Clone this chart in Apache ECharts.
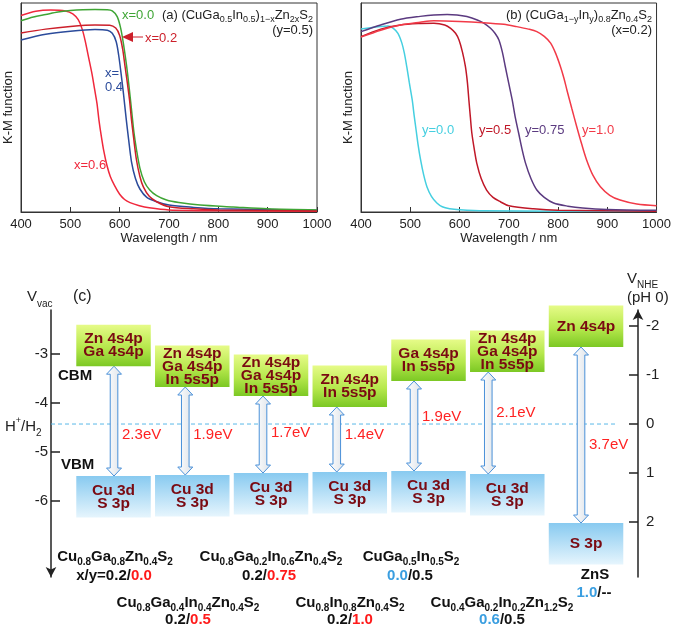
<!DOCTYPE html>
<html>
<head>
<meta charset="utf-8">
<script src="https://cdn.jsdelivr.net/npm/echarts@6/dist/echarts.min.js"></script>
<style>html,body{margin:0;padding:0;background:#fff;}#c{width:674px;height:629px;}</style>
</head>
<body>
<div id="c"></div>
<script>
const FONT = "'Liberation Sans', Arial, Helvetica, sans-serif";

// ---- Panel (a): (CuGa0.5In0.5)1-xZn2xS2 (wavelength nm, K-M relative) ----
const a_x00 = [[400,91.5],[425,93.3],[450,94.5],[475,95.7],[500,96.4],[525,96.8],[550,96.9],[575,96.8],[585,96.2],[595,93.5],[602,88],[608,80],[614,70],[619,60],[624,49],[629,38],[634,30],[641,21],[650,14.5],[661,10.5],[675,7.8],[695,5.7],[720,4.5],[763,3.3],[830,2.4],[900,1.5],[1000,1]];
const a_x02 = [[400,85.6],[450,87.5],[500,88.8],[550,89.5],[580,89.4],[592,88],[600,84.5],[606,78],[611,69.5],[616,61],[620,53.6],[624,44],[628,36],[634,25],[641,17],[648,12],[660,7.5],[675,4.9],[700,2.5],[750,1.5],[800,1],[1000,0.5]];
const a_x04 = [[400,82.3],[450,85],[500,86.5],[550,87.3],[575,87],[585,85.5],[593,81.5],[598,75],[603,66],[608,56],[613,45],[618,35],[624,24],[632,16],[641,11],[655,7],[675,4.9],[700,3.3],[750,2.2],[800,1.5],[1000,0.8]];
const a_x06 = [[400,94],[430,96],[460,96.6],[490,96.2],[505,94.8],[516,92],[524,87.5],[530,82],[537,74],[544,66],[549,59],[554,52],[558,44],[563,36],[568,29],[574,22.5],[581,17],[590,12.5],[600,8.5],[610,6],[621,4.5],[640,3],[660,2],[700,1],[800,0.6],[1000,0.4]];

// ---- Panel (b): (CuGa1-yIny)0.8Zn0.4S2 ----
const b_y000 = [[400,87.6],[420,88.2],[440,88.8],[455,89],[465,88],[475,85.5],[483,80.8],[488,76],[493,69.4],[498,62],[504,53.6],[508,46],[512,39],[516,32],[521,24.9],[527,18],[534,12],[543,7.5],[554,4.3],[565,2.5],[580,1.6],[600,1.1],[650,0.6],[1000,0.3]];
const b_y050 = [[400,83.9],[440,87.5],[480,89.5],[520,90.2],[548,90.3],[570,89.5],[582,87.9],[592,85.5],[599,82.3],[606,76.5],[612,69.5],[616,62],[619,53.6],[622,45.5],[625,37.8],[630,30],[635,23.4],[644,16],[655,10.5],[668,7],[683,4.9],[700,3],[750,1.5],[800,0.8],[1000,0.4]];
const b_y075 = [[400,86.3],[440,89.5],[480,92.2],[520,93.6],[548,94.3],[575,94.5],[595,94.3],[615,93.5],[636,91.9],[650,90.3],[663,87.9],[672,85.5],[680,82.3],[687,76.5],[693,69.5],[700,61.5],[707,53.6],[713,45.5],[720,37.8],[727,30],[734,23.4],[745,16],[757,10.5],[772,7],[791,4.3],[820,2.8],[850,1.9],[900,1.2],[1000,0.8]];
const b_y100 = [[400,83.7],[440,87],[480,89.5],[520,90.8],[548,91.5],[600,91.2],[649,90.6],[690,89.8],[716,88.7],[740,87.5],[757,86.3],[772,84],[785,80.8],[795,76],[805,69.5],[812,64],[818,58.4],[828,49.5],[838,40.8],[848,32.5],[858,24.9],[871,17.5],[886,12.1],[905,8],[926,5.7],[960,3.8],[1000,3]];

// ---- Panel (c): band positions (V vs NHE, pH 0) ----
const columns = [0,1,2,3,4,5,6];
const cbm = [-1.18,-0.755,-0.571,-0.347,-0.878,-1.061,-1.571];
const vbm = [1.061,1.041,1.0,0.98,0.959,1.02,2.02];
const gapEV = ['2.3','1.9','1.7','1.4','1.9','2.1','3.7'];
const cbmLabels = [['Zn 4s4p','Ga 4s4p'],['Zn 4s4p','Ga 4s4p','In 5s5p'],['Zn 4s4p','Ga 4s4p','In 5s5p'],['Zn 4s4p','In 5s5p'],['Ga 4s4p','In 5s5p'],['Zn 4s4p','Ga 4s4p','In 5s5p'],['Zn 4s4p']];
const vbmLabels = [['Cu 3d','S 3p'],['Cu 3d','S 3p'],['Cu 3d','S 3p'],['Cu 3d','S 3p'],['Cu 3d','S 3p'],['Cu 3d','S 3p'],['S 3p']];
const hLevel = 0;
const vvacTicks = [-6,-5,-4,-3];
const vnheTicks = [-2,-1,0,1,2];

// layout constants (not data)
const BOX_H = 0.847, BOX_HALF_W = 0.473;
const ARROW_DX = [0.5,-7,-8,-13,-14.5,-19,-5];
const GAP_LABEL_V = [0.224,0.224,0.184,0.224,-0.143,-0.224,0.43];

const chart = echarts.init(document.getElementById('c'), null, {renderer:'canvas'});

function lineSeries(data, color, gi) {
  return {type:'line', xAxisIndex:gi, yAxisIndex:gi, data:data, showSymbol:false, smooth:0.3,
    lineStyle:{color:color, width:1.5}, itemStyle:{color:color}, silent:true, z:3};
}

const cbmGrad = () => new echarts.graphic.LinearGradient(0,0,0,1,[{offset:0,color:'#e6fb88'},{offset:0.55,color:'#b6e84c'},{offset:1,color:'#7cc824'}]);
const vbmGrad = () => new echarts.graphic.LinearGradient(0,0,0,1,[{offset:0,color:'#88caf0'},{offset:1,color:'#e6f5fd'}]);

function boxRender(kind) {
  return function(params, api) {
    const i = params.dataIndex;
    const k = api.value(0), edge = api.value(1);
    const top = kind === 'cbm' ? edge - BOX_H : edge;
    const bot = kind === 'cbm' ? edge : edge + BOX_H;
    const p1 = api.coord([k - BOX_HALF_W, top]);
    const p2 = api.coord([k + BOX_HALF_W, bot]);
    const lines = kind === 'cbm' ? cbmLabels[i] : vbmLabels[i];
    return {type:'group', children:[
      {type:'rect', shape:{x:p1[0], y:p1[1], width:p2[0]-p1[0], height:p2[1]-p1[1]},
        style:{fill: kind === 'cbm' ? cbmGrad() : vbmGrad()}},
      {type:'text', x:(p1[0]+p2[0])/2, y:(p1[1]+p2[1])/2,
        style:{text:lines.join('\n'), align:'center', verticalAlign:'middle', fontSize:15.5, fontWeight:'bold',
          fontFamily:FONT, fill:'#7a0a12', lineHeight:13}}
    ]};
  };
}

function arrowRender(params, api) {
  const i = params.dataIndex;
  const k = api.value(0), c = api.value(1), v = api.value(2);
  const pTop = api.coord([k, c]), pBot = api.coord([k, v]);
  const cx = pTop[0] + ARROW_DX[i];
  const y1 = pTop[1], y2 = pBot[1];
  const hw = 7.5, sw = 3.8, hh = 8;
  const pts = [[cx,y1],[cx+hw,y1+hh],[cx+sw,y1+hh],[cx+sw,y2-hh],[cx+hw,y2-hh],[cx,y2],[cx-hw,y2-hh],[cx-sw,y2-hh],[cx-sw,y1+hh],[cx-hw,y1+hh]];
  const ly = api.coord([k, GAP_LABEL_V[i]])[1];
  return {type:'group', children:[
    {type:'polygon', shape:{points:pts},
      style:{fill:new echarts.graphic.LinearGradient(0,0,1,0,[{offset:0,color:'#ffffff'},{offset:1,color:'#dde2e8'}]), stroke:'#4a90d8', lineWidth:1}},
    {type:'text', x:cx+8, y:ly, style:{text:gapEV[i]+'eV', fill:'#ff2222', fontSize:15, fontFamily:FONT, align:'left', verticalAlign:'middle'}}
  ]};
}

function txt(x, y, text, opts) {
  const o = Object.assign({fill:'#222', fontSize:13, align:'left', fontWeight:'normal', lineHeight:18}, opts || {});
  return {type:'text', x:x, y:y, silent:true, z:100,
    style:{text:text, fill:o.fill, fontSize:o.fontSize, fontFamily:FONT, fontWeight:o.fontWeight, align:o.align,
      verticalAlign:'middle', lineHeight:o.lineHeight, rich:o.rich}};
}
const titleRich = {s:{fontSize:9, lineHeight:9, verticalAlign:'bottom', fontFamily:FONT, fill:'#222'}};
function compRich() {
  return {
    s:{fontSize:10, lineHeight:9, verticalAlign:'bottom', fontFamily:FONT, fontWeight:'bold', fill:'#111'},
    b:{fontSize:15, fontFamily:FONT, fontWeight:'bold', fill:'#3a9ee0', lineHeight:20},
    r:{fontSize:15, fontFamily:FONT, fontWeight:'bold', fill:'#ff1a1a', lineHeight:20}
  };
}
function comp(x, y, text) {
  return txt(x, y, text, {align:'center', fontSize:15, fontWeight:'bold', fill:'#111', lineHeight:20, rich:compRich()});
}
function wlAxis(gi) {
  return {gridIndex:gi, type:'value', min:400, max:1000, interval:100,
    axisLine:{onZero:false, lineStyle:{color:'#333'}}, axisTick:{inside:true, length:5, lineStyle:{color:'#333'}},
    axisLabel:{fontSize:13, color:'#222', margin:6, formatter:(v)=>String(v)}, splitLine:{show:false},
    name:'Wavelength / nm', nameLocation:'middle', nameGap:19, nameTextStyle:{fontSize:13, color:'#222'}};
}
function kmAxis(gi) {
  return {gridIndex:gi, type:'value', min:0, max:100, axisLine:{show:true, onZero:false, lineStyle:{color:'#333'}}, axisTick:{show:false},
    axisLabel:{show:false}, splitLine:{show:false},
    name:'K-M function', nameLocation:'middle', nameGap:6, nameTextStyle:{fontSize:13, color:'#222'}};
}

const option = {
  animation:false,
  textStyle:{fontFamily:FONT},
  grid:[
    {left:21, top:3, width:296, height:209, show:true, borderColor:'#333', borderWidth:1, backgroundColor:'transparent'},
    {left:361, top:3, width:296, height:209, show:true, borderColor:'#333', borderWidth:1, backgroundColor:'transparent'},
    {left:51, top:310, width:587, height:267}
  ],
  xAxis:[
    wlAxis(0), wlAxis(1),
    {gridIndex:2, type:'value', min:-0.794, max:6.66, show:false}
  ],
  yAxis:[
    kmAxis(0), kmAxis(1),
    {gridIndex:2, type:'value', position:'left', min:-7.551, max:-2.102,
      axisLine:{show:true, onZero:false, symbol:['arrow','none'], symbolSize:[8,10], lineStyle:{color:'#222', width:1.5}},
      axisTick:{show:true, inside:true, length:9, customValues:vvacTicks, lineStyle:{color:'#222', width:1.5}},
      axisLabel:{show:true, customValues:vvacTicks, fontSize:15, color:'#222', margin:3},
      splitLine:{show:false}},
    {gridIndex:2, type:'value', position:'right', inverse:true, min:-2.327, max:3.122,
      axisLine:{show:true, onZero:false, symbol:['none','arrow'], symbolSize:[8,10], lineStyle:{color:'#222', width:1.5}},
      axisTick:{show:true, inside:true, length:9, customValues:vnheTicks, lineStyle:{color:'#222', width:1.5}},
      axisLabel:{show:true, customValues:vnheTicks, fontSize:15, color:'#222', margin:8},
      splitLine:{show:false}}
  ],
  series:[
    lineSeries(a_x06, '#f0283c', 0),
    lineSeries(a_x04, '#2b4b9b', 0),
    lineSeries(a_x00, '#3fa535', 0),
    lineSeries(a_x02, '#cc1f2a', 0),
    lineSeries(b_y000, '#45cfe0', 1),
    lineSeries(b_y050, '#c01828', 1),
    lineSeries(b_y075, '#5b3a80', 1),
    lineSeries(b_y100, '#f23a48', 1),
    {type:'line', xAxisIndex:2, yAxisIndex:3, data:[[-0.794,hLevel],[6.37,hLevel]], showSymbol:false, silent:true,
      lineStyle:{color:'#5ab8e8', width:1, type:[4,3]}, z:2},
    {type:'custom', xAxisIndex:2, yAxisIndex:3, coordinateSystem:'cartesian2d', renderItem:arrowRender, silent:true, z:4,
      data:columns.map((k,i)=>[k, cbm[i], vbm[i]])},
    {type:'custom', xAxisIndex:2, yAxisIndex:3, coordinateSystem:'cartesian2d', renderItem:boxRender('cbm'), silent:true, z:5,
      data:columns.map((k,i)=>[k, cbm[i]])},
    {type:'custom', xAxisIndex:2, yAxisIndex:3, coordinateSystem:'cartesian2d', renderItem:boxRender('vbm'), silent:true, z:5,
      data:columns.map((k,i)=>[k, vbm[i]])}
  ],
  graphic:[
    // panel (a) annotations
    txt(313, 15, '(a) (CuGa{s|0.5}In{s|0.5}){s|1−x}Zn{s|2x}S{s|2}', {align:'right', rich:titleRich}),
    txt(313, 30, '(y=0.5)', {align:'right'}),
    txt(122, 15, 'x=0.0', {fill:'#3fa535'}),
    txt(145, 38, 'x=0.2', {fill:'#cc1f2a'}),
    {type:'polygon', silent:true, z:100, shape:{points:[[122,37],[133,32],[133,42]]}, style:{fill:'#cc1f2a'}},
    {type:'line', silent:true, z:100, shape:{x1:133, y1:37, x2:143, y2:37}, style:{stroke:'#cc1f2a', lineWidth:1}},
    txt(105, 73, 'x=', {fill:'#2b4b9b'}),
    txt(105, 87, '0.4', {fill:'#2b4b9b'}),
    txt(74, 165, 'x=0.6', {fill:'#f0283c'}),
    // panel (b) annotations
    txt(652, 15, '(b) (CuGa{s|1−y}In{s|y}){s|0.8}Zn{s|0.4}S{s|2}', {align:'right', rich:titleRich}),
    txt(652, 30, '(x=0.2)', {align:'right'}),
    txt(422, 130, 'y=0.0', {fill:'#45cfe0'}),
    txt(479, 130, 'y=0.5', {fill:'#c01828'}),
    txt(525, 130, 'y=0.75', {fill:'#5b3a80'}),
    txt(582, 130, 'y=1.0', {fill:'#f23a48'}),
    // panel (c) annotations
    txt(27, 297, 'V{s|vac}', {fontSize:15, lineHeight:24, rich:{s:{fontSize:10, lineHeight:8, verticalAlign:'bottom', fontFamily:FONT, fill:'#222'}}}),
    txt(73, 297, '(c)', {fontSize:16}),
    txt(58, 376, 'CBM', {fontSize:15, fontWeight:'bold', fill:'#111'}),
    txt(61, 465, 'VBM', {fontSize:15, fontWeight:'bold', fill:'#111'}),
    txt(5, 427, 'H{p|+}/H{s|2}', {fontSize:15, lineHeight:22, rich:{
      p:{fontSize:9, lineHeight:8, verticalAlign:'top', fontFamily:FONT, fill:'#222'},
      s:{fontSize:10, lineHeight:8, verticalAlign:'bottom', fontFamily:FONT, fill:'#222'}}}),
    txt(627, 279, 'V{s|NHE}', {fontSize:15, lineHeight:22, rich:{s:{fontSize:10, lineHeight:8, verticalAlign:'bottom', fontFamily:FONT, fill:'#222'}}}),
    txt(627, 298, '(pH 0)', {fontSize:15}),
    // compound labels
    comp(115, 557, 'Cu{s|0.8}Ga{s|0.8}Zn{s|0.4}S{s|2}'),
    comp(114, 576, 'x/y=0.2/{r|0.0}'),
    comp(271, 557, 'Cu{s|0.8}Ga{s|0.2}In{s|0.6}Zn{s|0.4}S{s|2}'),
    comp(269, 576, '0.2/{r|0.75}'),
    comp(411, 557, 'CuGa{s|0.5}In{s|0.5}S{s|2}'),
    comp(410, 576, '{b|0.0}/0.5'),
    comp(188, 603, 'Cu{s|0.8}Ga{s|0.4}In{s|0.4}Zn{s|0.4}S{s|2}'),
    comp(188, 620, '0.2/{r|0.5}'),
    comp(350, 603, 'Cu{s|0.8}In{s|0.8}Zn{s|0.4}S{s|2}'),
    comp(350, 620, '0.2/{r|1.0}'),
    comp(502, 603, 'Cu{s|0.4}Ga{s|0.2}In{s|0.2}Zn{s|1.2}S{s|2}'),
    comp(502, 620, '{b|0.6}/0.5'),
    comp(595, 575, 'ZnS'),
    comp(594, 593, '{b|1.0}/--')
  ]
};
chart.setOption(option);
</script>
</body>
</html>
